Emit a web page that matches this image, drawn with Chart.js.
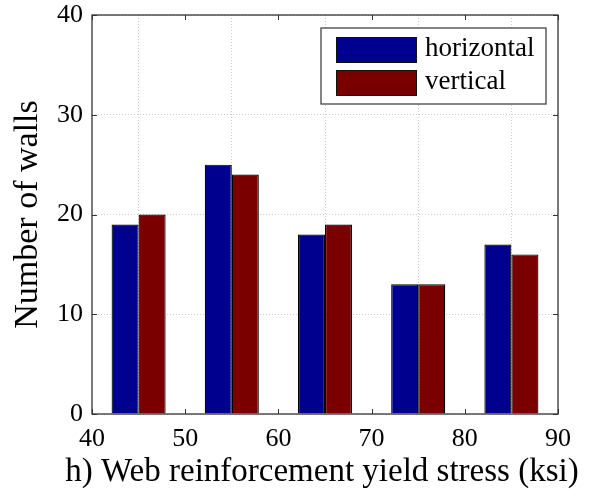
<!DOCTYPE html>
<html>
<head>
<meta charset="utf-8">
<script src="https://cdn.jsdelivr.net/npm/chart.js@4.4.1/dist/chart.umd.min.js"></script>
<style>
  html, body { margin: 0; padding: 0; background: #ffffff; }
  #wrap { width: 591px; height: 497px; position: relative; }
</style>
</head>
<body>
<div id="wrap"><canvas id="chart" width="591" height="497"></canvas></div>
<script>
// Yield-stress bins (bin centres, ksi)
const binCenters = [45, 55, 65, 75, 85];
// Wall counts per bin
const horizontalWalls = [19, 25, 18, 13, 17];
const verticalWalls = [20, 24, 19, 13, 16];
// Axis ticks
const xTicks = [40, 50, 60, 70, 80, 90];
const yTicks = [0, 10, 20, 30, 40];
const xTitle = 'h) Web reinforcement yield stress (ksi)';

const SERIF = '"Liberation Serif", "Times New Roman", serif';

// Draws the framed box, inward tick marks on all four sides, the x-axis title
// (wider than the plot, so drawn here without squeezing) and the legend inside the plot
const frameAndLegend = {
  id: 'frameAndLegend',
  afterDraw(chart) {
    const { ctx, chartArea: a, scales: { x, y } } = chart;
    ctx.save();
    ctx.strokeStyle = '#333333';
    ctx.lineWidth = 1.3;
    ctx.strokeRect(a.left, a.top, a.right - a.left, a.bottom - a.top);
    ctx.lineWidth = 1;
    const t = 5;
    xTicks.forEach(v => {
      const px = Math.round(x.getPixelForValue(v)) + 0.5;
      ctx.beginPath();
      ctx.moveTo(px, a.bottom); ctx.lineTo(px, a.bottom - t);
      ctx.moveTo(px, a.top); ctx.lineTo(px, a.top + t);
      ctx.stroke();
    });
    yTicks.forEach(v => {
      const py = Math.round(y.getPixelForValue(v)) + 0.5;
      ctx.beginPath();
      ctx.moveTo(a.left, py); ctx.lineTo(a.left + t, py);
      ctx.moveTo(a.right, py); ctx.lineTo(a.right - t, py);
      ctx.stroke();
    });

    // x-axis title
    ctx.fillStyle = '#000000';
    ctx.font = '33px ' + SERIF;
    ctx.textAlign = 'center';
    ctx.textBaseline = 'middle';
    ctx.fillText(xTitle, 322, 472);

    // legend box
    const bx = 321, by = 28, bw = 225, bh = 76;
    ctx.fillStyle = '#ffffff';
    ctx.fillRect(bx, by, bw, bh);
    ctx.strokeStyle = '#444444';
    ctx.lineWidth = 1.3;
    ctx.strokeRect(bx, by, bw, bh);
    ctx.font = '27px ' + SERIF;
    ctx.textAlign = 'left';
    ctx.textBaseline = 'middle';
    chart.data.datasets.forEach((ds, i) => {
      const sy = 37 + i * 33;
      ctx.fillStyle = ds.backgroundColor;
      ctx.fillRect(336, sy, 80, 25);
      ctx.strokeStyle = '#111111';
      ctx.lineWidth = 1;
      ctx.strokeRect(336.5, sy + 0.5, 80, 25);
      ctx.fillStyle = '#000000';
      ctx.fillText(ds.label, 425, sy + 12);
    });
    ctx.restore();
  }
};

const toPoints = vals => vals.map((v, i) => ({ x: binCenters[i], y: v }));

new Chart(document.getElementById('chart'), {
  type: 'bar',
  data: {
    datasets: [
      { label: 'horizontal', data: toPoints(horizontalWalls), backgroundColor: '#00008f', borderColor: '#000000', borderWidth: 1.2 },
      { label: 'vertical', data: toPoints(verticalWalls), backgroundColor: '#7a0000', borderColor: '#000000', borderWidth: 1.2 }
    ]
  },
  options: {
    responsive: false,
    animation: false,
    events: [],
    categoryPercentage: 0.58,
    barPercentage: 1.0,
    layout: { padding: { top: 15, right: 33, left: 0, bottom: 0 } },
    plugins: { legend: { display: false }, tooltip: { enabled: false } },
    scales: {
      x: {
        type: 'linear',
        offset: false,
        min: 40, max: 90,
        afterBuildTicks: s => { s.ticks = xTicks.map(v => ({ value: v })); },
        afterFit: s => { s.height = 83; s.paddingLeft = 0; s.paddingRight = 0; },
        grid: { color: '#cccccc', lineWidth: 1, drawTicks: false },
        border: { display: false, dash: [1, 2] },
        ticks: { color: '#000', font: { family: SERIF, size: 26 }, padding: 10, maxRotation: 0 },
        title: { display: false }
      },
      y: {
        min: 0, max: 40,
        afterBuildTicks: s => { s.ticks = yTicks.map(v => ({ value: v })); },
        afterFit: s => { s.width = 92; s.paddingTop = 0; s.paddingBottom = 0; },
        grid: { color: '#cccccc', lineWidth: 1, drawTicks: false },
        border: { display: false, dash: [1, 2] },
        ticks: { color: '#000', font: { family: SERIF, size: 26 }, padding: 9 },
        title: { display: true, text: 'Number of walls', color: '#000', font: { family: SERIF, size: 34 }, padding: { top: 8, bottom: 0 } }
      }
    }
  },
  plugins: [frameAndLegend]
});
</script>
</body>
</html>
